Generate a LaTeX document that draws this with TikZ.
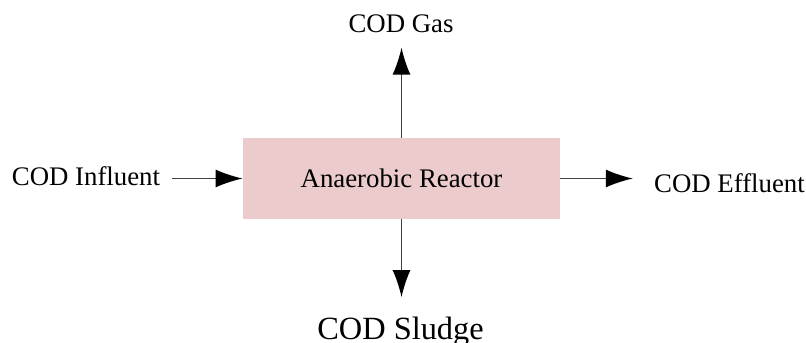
\documentclass[tikz,border=0pt]{standalone}
\usepackage{fontspec}
\setmainfont{Liberation Serif}
\usepackage{tikz}
\usetikzlibrary{arrows.meta,positioning,calc}
\definecolor{reactorfill}{HTML}{EBCBCB}
\definecolor{flowline}{HTML}{404040}
\tikzset{thick/.style={line width=0.7pt}}
\tikzset{
  flow/.style={-{Latex[length=13.5pt,width=9pt,fill=black,color=black]},thick,flowline},
  reactorbox/.style={fill=reactorfill,minimum width=158.5pt,minimum height=40.5pt,inner sep=0pt,align=center,font=\fontsize{13.4}{16}\selectfont},
  labeltext/.style={inner sep=0pt,font=\fontsize{13.4}{16}\selectfont,anchor=base},
  biglabel/.style={labeltext,font=\fontsize{16.2}{19}\selectfont}
}

\begin{document}
\begin{tikzpicture}[x=0.5pt,y=-0.5pt]
\useasboundingbox (0,0) rectangle (806,342);
\node[reactorbox] (reactor) at (401.5,178.5) {Anaerobic Reactor};
\node[labeltext] (influent) at (86,185) {COD Influent};
\node[labeltext] (effluent) at (729.5,192) {COD Effluent};
\node[labeltext] (gas) at (401,33) {COD Gas};
\node[biglabel] (sludge) at (400.5,339) {COD Sludge};
% streams in and out of the reactor
\draw[flow,shorten <=6pt] (influent.east |- reactor.west) -- (reactor.west);
\draw[flow,shorten >=10.5pt] (reactor.east) -- (effluent.west |- reactor.east);
\draw[flow,shorten >=7pt] (reactor.north) -- (reactor.north |- gas.south);
\draw[flow,shorten >=9.5pt] (reactor.south) -- (reactor.south |- sludge.north);
\end{tikzpicture}
\end{document}
